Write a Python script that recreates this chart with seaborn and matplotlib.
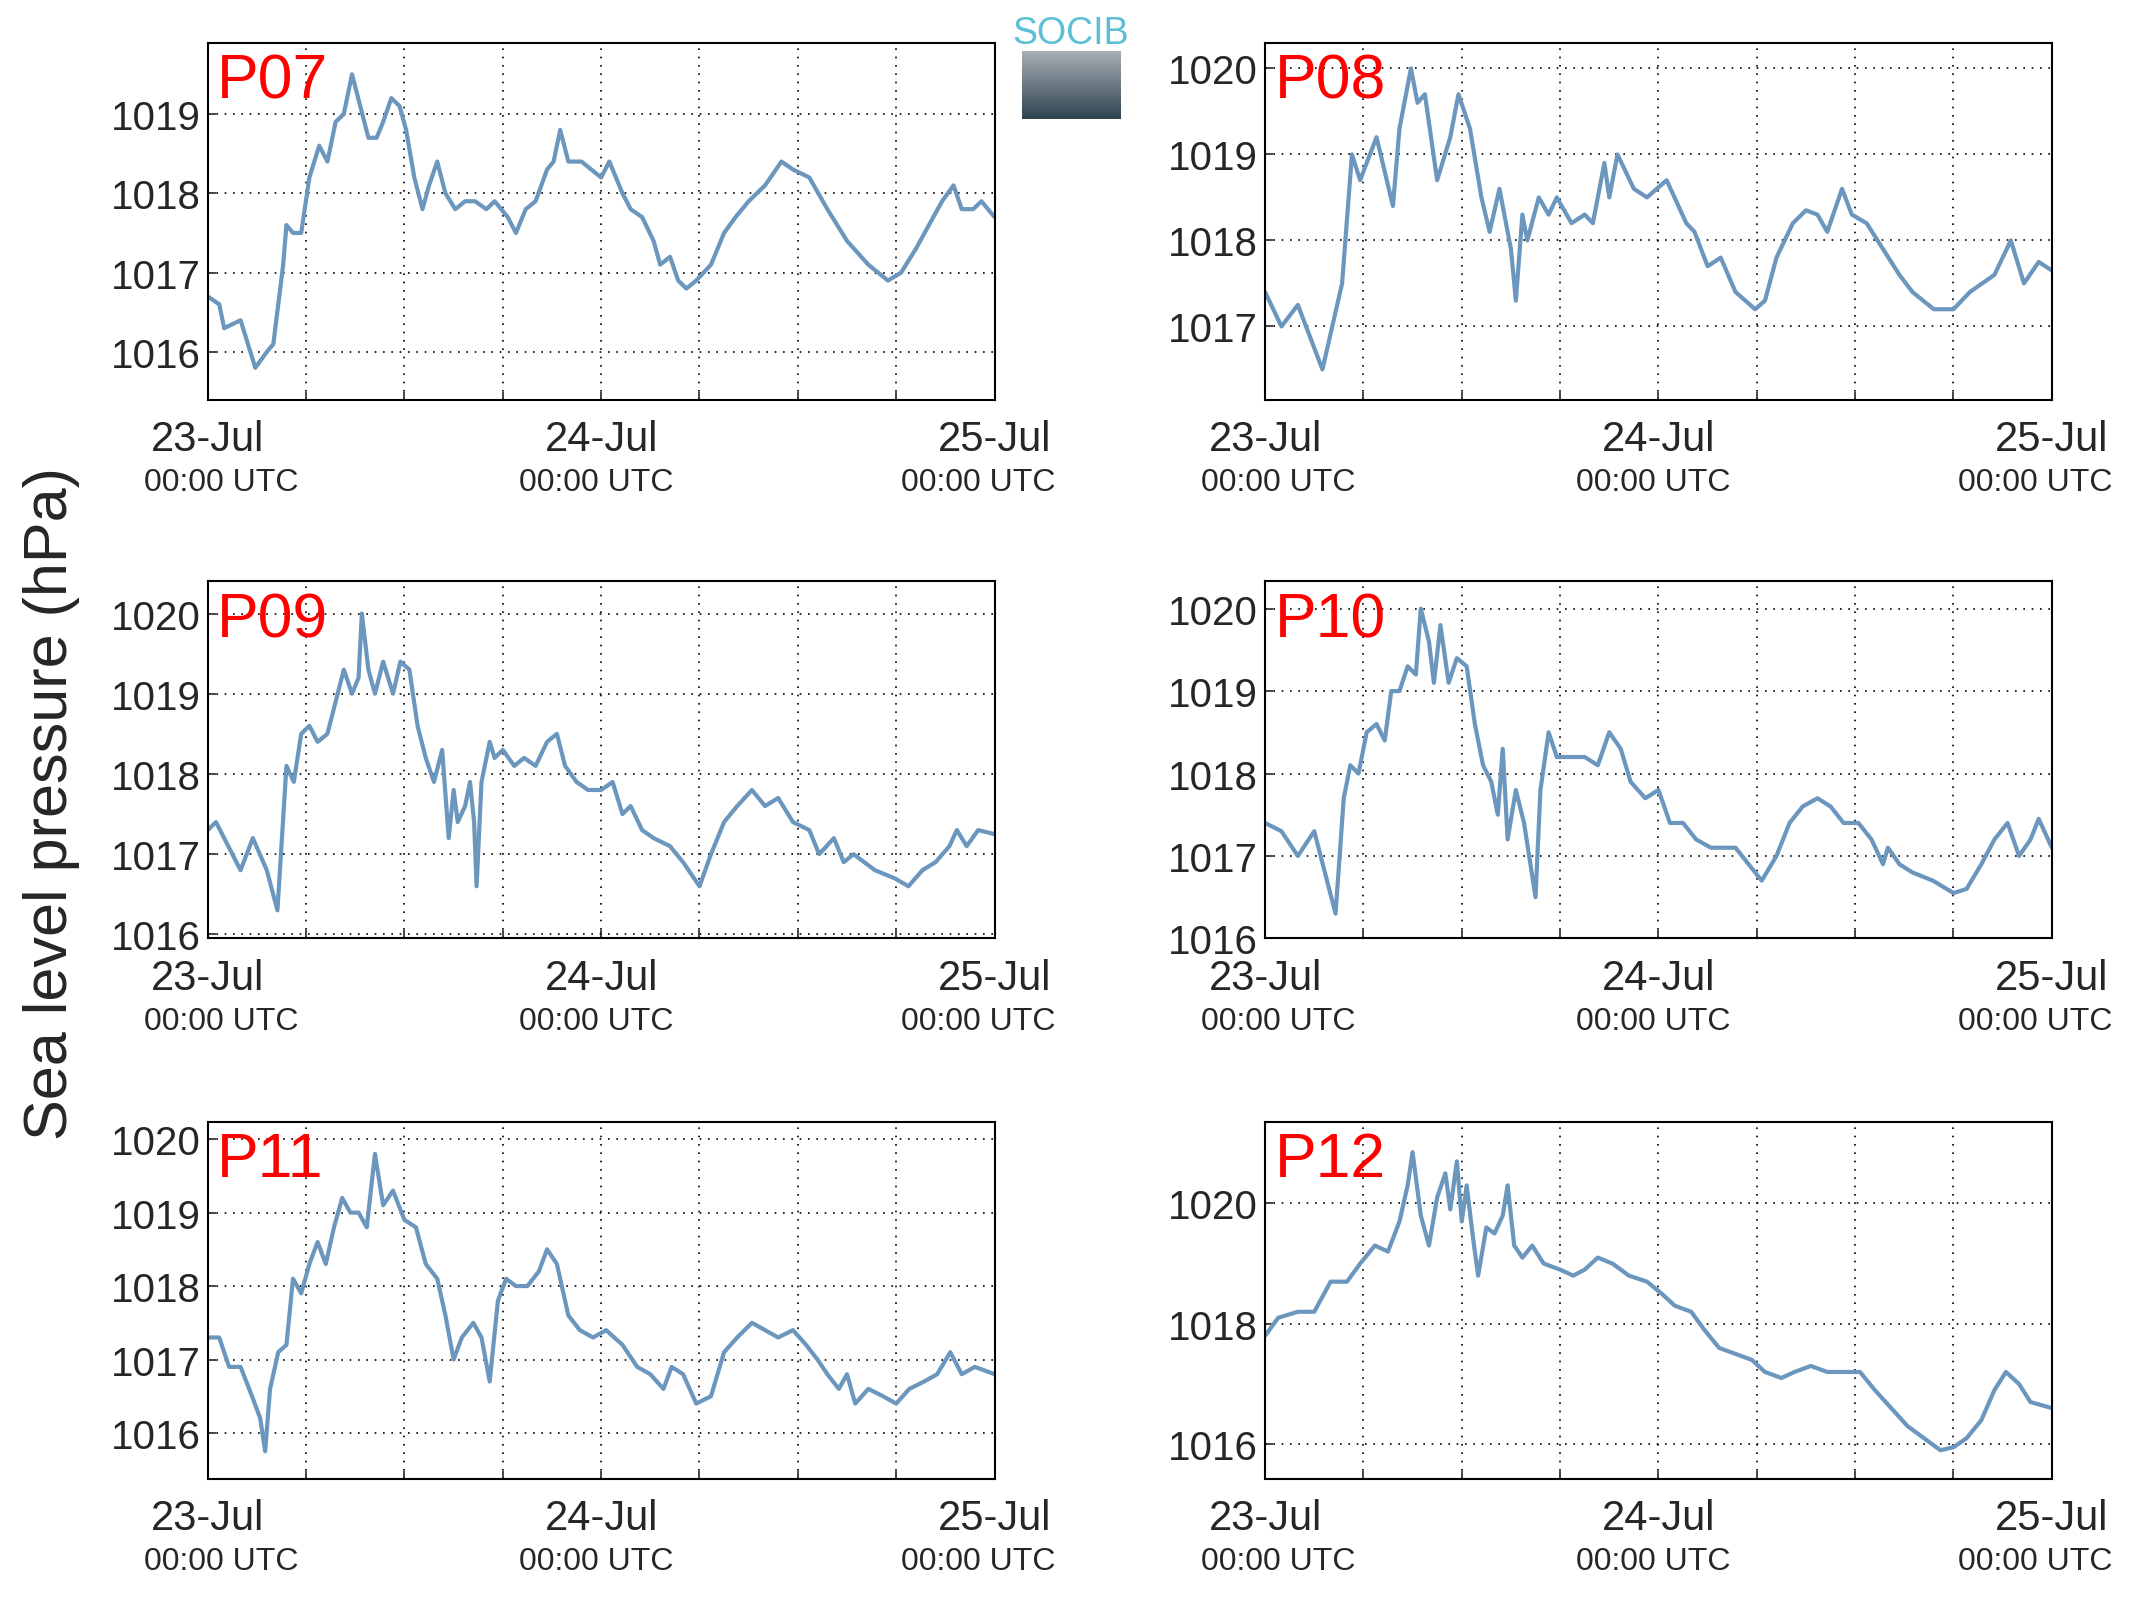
import numpy as np
import pandas as pd
import matplotlib
matplotlib.use("Agg")
import matplotlib.pyplot as plt
import matplotlib.transforms as mtransforms
import seaborn as sns

sns.set_style("white")
plt.rcParams['font.family'] = ['Liberation Sans', 'DejaVu Sans']

# hours since 23-Jul 00:00 UTC
p07_h = [0,0.7,1,2,2.3,2.9,3.6,4,4.6,4.8,5.2,5.7,6.2,6.8,7.3,7.8,8.3,8.8,9.3,9.8,10.3,10.7,11.2,11.7,12.1,12.6,13.1,13.5,14,14.5,15.1,15.7,16.3,17,17.5,18.3,18.8,19.4,20,20.7,21.1,21.5,22,22.8,23.4,24,24.5,25.3,25.8,26.5,27.2,27.6,28.2,28.7,29.2,29.8,30.7,31.5,32.2,33,34,35,35.7,36.7,37.8,39,40.3,41.5,42.3,43.2,44,44.8,45.5,46,46.7,47.2,48]
p07_v = [1016.7,1016.6,1016.3,1016.4,1016.2,1015.8,1016.0,1016.1,1017.1,1017.6,1017.5,1017.5,1018.2,1018.6,1018.4,1018.9,1019.0,1019.5,1019.1,1018.7,1018.7,1018.9,1019.2,1019.1,1018.8,1018.2,1017.8,1018.1,1018.4,1018.0,1017.8,1017.9,1017.9,1017.8,1017.9,1017.7,1017.5,1017.8,1017.9,1018.3,1018.4,1018.8,1018.4,1018.4,1018.3,1018.2,1018.4,1018.0,1017.8,1017.7,1017.4,1017.1,1017.2,1016.9,1016.8,1016.9,1017.1,1017.5,1017.7,1017.9,1018.1,1018.4,1018.3,1018.2,1017.8,1017.4,1017.1,1016.9,1017.0,1017.3,1017.6,1017.9,1018.1,1017.8,1017.8,1017.9,1017.7]

p08_h = [0,1,2,3.5,4.7,5.3,5.8,6.8,7.8,8.2,8.9,9.3,9.75,10.2,10.5,11.3,11.8,12.5,13.2,13.7,14.3,15,15.3,15.7,16,16.7,17.3,17.8,18.7,19.5,20,20.7,21,21.5,22.5,23.3,24.5,25.7,26.2,27,27.8,28.7,29.9,30.5,31.2,32.2,33,33.7,34.3,35.2,35.8,36.7,37.7,38.7,39.5,40.8,42,43,44.5,45.5,46.3,47.2,48]
p08_v = [1017.4,1017.0,1017.25,1016.5,1017.5,1019.0,1018.7,1019.2,1018.4,1019.3,1020.0,1019.6,1019.7,1019.1,1018.7,1019.2,1019.7,1019.3,1018.5,1018.1,1018.6,1017.9,1017.3,1018.3,1018.0,1018.5,1018.3,1018.5,1018.2,1018.3,1018.2,1018.9,1018.5,1019.0,1018.6,1018.5,1018.7,1018.2,1018.1,1017.7,1017.8,1017.4,1017.2,1017.3,1017.8,1018.2,1018.35,1018.3,1018.1,1018.6,1018.3,1018.2,1017.9,1017.6,1017.4,1017.2,1017.2,1017.4,1017.6,1018.0,1017.5,1017.75,1017.65]

p09_h = [0,0.5,1.5,2,2.75,3.6,4.25,4.8,5.25,5.7,6.2,6.7,7.3,7.8,8.3,8.8,9.2,9.4,9.8,10.2,10.7,11.3,11.75,12.3,12.8,13.3,13.8,14.3,14.7,15,15.25,15.7,16,16.25,16.4,16.7,17.2,17.5,18,18.7,19.3,20,20.7,21.3,21.8,22.5,23.2,24,24.7,25.3,25.8,26.5,27.2,28.2,29,30,30.7,31.5,32.3,33.2,34,34.8,35.7,36.7,37.3,38.2,38.8,39.4,40.7,41.9,42.75,43.6,44.4,45.25,45.7,46.3,47,48]
p09_v = [1017.3,1017.4,1017.0,1016.8,1017.2,1016.8,1016.3,1018.1,1017.9,1018.5,1018.6,1018.4,1018.5,1018.9,1019.3,1019.0,1019.2,1020.0,1019.3,1019.0,1019.4,1019.0,1019.4,1019.3,1018.6,1018.2,1017.9,1018.3,1017.2,1017.8,1017.4,1017.6,1017.9,1017.4,1016.6,1017.9,1018.4,1018.2,1018.3,1018.1,1018.2,1018.1,1018.4,1018.5,1018.1,1017.9,1017.8,1017.8,1017.9,1017.5,1017.6,1017.3,1017.2,1017.1,1016.9,1016.6,1017.0,1017.4,1017.6,1017.8,1017.6,1017.7,1017.4,1017.3,1017.0,1017.2,1016.9,1017.0,1016.8,1016.7,1016.6,1016.8,1016.9,1017.1,1017.3,1017.1,1017.3,1017.25]

p10_h = [0,1,2,3,4.3,4.8,5.2,5.7,6.2,6.8,7.3,7.7,8.2,8.7,9.2,9.5,10,10.3,10.7,11.2,11.7,12.3,12.8,13.3,13.8,14.2,14.5,14.8,15.3,15.8,16.5,16.8,17.3,17.8,18.7,19.5,20.3,21,21.7,22.3,23.2,24,24.7,25.5,26.3,27.2,28.7,30.3,31.2,32,32.8,33.7,34.5,35.3,36.2,37,37.7,38,38.7,39.5,40.75,42,42.8,43.7,44.5,45.3,46,46.7,47.2,48]
p10_v = [1017.4,1017.3,1017.0,1017.3,1016.3,1017.7,1018.1,1018.0,1018.5,1018.6,1018.4,1019.0,1019.0,1019.3,1019.2,1020.0,1019.6,1019.1,1019.8,1019.1,1019.4,1019.3,1018.6,1018.1,1017.9,1017.5,1018.3,1017.2,1017.8,1017.4,1016.5,1017.8,1018.5,1018.2,1018.2,1018.2,1018.1,1018.5,1018.3,1017.9,1017.7,1017.8,1017.4,1017.4,1017.2,1017.1,1017.1,1016.7,1017.0,1017.4,1017.6,1017.7,1017.6,1017.4,1017.4,1017.2,1016.9,1017.1,1016.9,1016.8,1016.7,1016.55,1016.6,1016.9,1017.2,1017.4,1017.0,1017.2,1017.45,1017.1]

p11_h = [0,0.7,1.3,2,2.7,3.2,3.5,3.8,4.3,4.8,5.2,5.7,6.2,6.7,7.2,7.7,8.2,8.7,9.2,9.7,10.2,10.7,11.3,12,12.7,13.3,14,14.5,15,15.5,16.2,16.7,17.2,17.7,18.2,18.8,19.5,20.2,20.7,21.3,22,22.7,23.5,24.3,25.3,26.2,27,27.8,28.3,29,29.8,30.7,31.5,32.3,33.2,34,34.8,35.7,36.5,37.2,37.8,38.5,39,39.5,40.3,41.2,42,42.8,43.7,44.5,45.3,46,46.8,48]
p11_v = [1017.3,1017.3,1016.9,1016.9,1016.5,1016.2,1015.75,1016.6,1017.1,1017.2,1018.1,1017.9,1018.3,1018.6,1018.3,1018.8,1019.2,1019.0,1019.0,1018.8,1019.8,1019.1,1019.3,1018.9,1018.8,1018.3,1018.1,1017.6,1017.0,1017.3,1017.5,1017.3,1016.7,1017.8,1018.1,1018.0,1018.0,1018.2,1018.5,1018.3,1017.6,1017.4,1017.3,1017.4,1017.2,1016.9,1016.8,1016.6,1016.9,1016.8,1016.4,1016.5,1017.1,1017.3,1017.5,1017.4,1017.3,1017.4,1017.2,1017.0,1016.8,1016.6,1016.8,1016.4,1016.6,1016.5,1016.4,1016.6,1016.7,1016.8,1017.1,1016.8,1016.9,1016.8]

p12_h = [0,0.8,2,3,4,5,5.8,6.7,7.5,8.2,8.7,9,9.5,10,10.5,11,11.3,11.7,12,12.3,12.7,13,13.5,14,14.5,14.8,15.2,15.7,16.3,17,18,18.8,19.5,20.3,21.2,22.2,23.3,24.2,25,26,26.8,27.7,28.7,29.7,30.5,31.5,32.3,33.3,34.3,35.3,36.3,37.2,38.2,39.2,40.2,41.2,42,42.8,43.7,44.5,45.2,46,46.7,48]
p12_v = [1017.8,1018.1,1018.2,1018.2,1018.7,1018.7,1019.0,1019.3,1019.2,1019.7,1020.3,1020.85,1019.8,1019.3,1020.1,1020.5,1019.9,1020.7,1019.7,1020.3,1019.4,1018.8,1019.6,1019.5,1019.8,1020.3,1019.3,1019.1,1019.3,1019.0,1018.9,1018.8,1018.9,1019.1,1019.0,1018.8,1018.7,1018.5,1018.3,1018.2,1017.9,1017.6,1017.5,1017.4,1017.2,1017.1,1017.2,1017.3,1017.2,1017.2,1017.2,1016.9,1016.6,1016.3,1016.1,1015.9,1015.95,1016.1,1016.4,1016.9,1017.2,1017.0,1016.7,1016.6]

names = ["P07", "P08", "P09", "P10", "P11", "P12"]
series = [(p07_h, p07_v), (p08_h, p08_v), (p09_h, p09_v), (p10_h, p10_v), (p11_h, p11_v), (p12_h, p12_v)]
ylims = [(1015.4, 1019.9), (1016.15, 1020.3), (1015.95, 1020.4), (1016.0, 1020.33), (1015.38, 1020.24), (1015.43, 1021.36)]
yticks = [[1016, 1017, 1018, 1019], [1017, 1018, 1019, 1020], [1016, 1017, 1018, 1019, 1020],
          [1016, 1017, 1018, 1019, 1020], [1016, 1017, 1018, 1019, 1020], [1016, 1018, 1020]]
date_labels = ["23-Jul", "24-Jul", "25-Jul"]

fig = plt.figure(figsize=(21.42, 16.08), dpi=100)
lefts = [0.097, 0.5906]
bottoms = [0.7509, 0.4158, 0.0799]
w, h = 0.3673, 0.222
color = "#6b96bd"
utc_offsets = [0.8, -0.3, -1.0]

for i, (name, (hh, vv)) in enumerate(zip(names, series)):
    r, c = divmod(i, 2)
    ax = fig.add_axes([lefts[c], bottoms[r], w, h])
    df = pd.DataFrame({"hour": hh, "slp": vv})
    sns.lineplot(data=df, x="hour", y="slp", ax=ax, color=color, linewidth=3.0)
    ax.set_xlim(0, 48)
    ax.set_ylim(*ylims[i])
    ax.set_xticks([0, 24, 48])
    ax.set_xticks(np.arange(6, 48, 6), minor=True)
    ax.set_xticklabels([])
    ax.set_yticks(yticks[i])
    ax.set_yticklabels([str(t) for t in yticks[i]], fontsize=29)
    ax.grid(True, which="both", axis="x", color="black", linestyle=(0, (1, 4)), linewidth=1.2)
    ax.grid(True, which="major", axis="y", color="black", linestyle=(0, (1, 4)), linewidth=1.2)
    ax.tick_params(axis="both", which="both", direction="in", length=6, width=1.2, pad=5)
    ax.tick_params(axis="x", which="both", bottom=True, top=False)
    ax.tick_params(axis="y", left=True)
    for s in ax.spines.values():
        s.set_color("black")
        s.set_linewidth(1.5)
    ax.set_xlabel("")
    ax.set_ylabel("")
    trans = mtransforms.blended_transform_factory(ax.transData, ax.transAxes)
    for xv, lab, off in zip([0, 24, 48], date_labels, utc_offsets):
        ax.text(xv, -0.055, lab, transform=trans, ha="center", va="top", fontsize=30)
        ax.text(xv + off, -0.19, "00:00 UTC", transform=trans, ha="center", va="top", fontsize=23)
    ax.text(0.012, 0.975, name, transform=ax.transAxes, ha="left", va="top", fontsize=45, color="red")

fig.text(0.024, 0.5, "Sea level pressure (hPa)", rotation=90, ha="center", va="center", fontsize=44)

# logo
lax = fig.add_axes([748 / 1568, 1 - 88 / 1176, 72 / 1568, 50 / 1176])
grad = np.linspace(0, 1, 100).reshape(-1, 1)
lax.imshow(grad, aspect="auto", cmap=matplotlib.colors.LinearSegmentedColormap.from_list("g", ["#a9b0b6", "#2f4451"]))
lax.axis("off")
fig.text(784 / 1568, 1 - 25 / 1176, "SOCIB", ha="center", va="center", fontsize=27, color="#5bbfd6")

fig.savefig("out.png", dpi=100)
